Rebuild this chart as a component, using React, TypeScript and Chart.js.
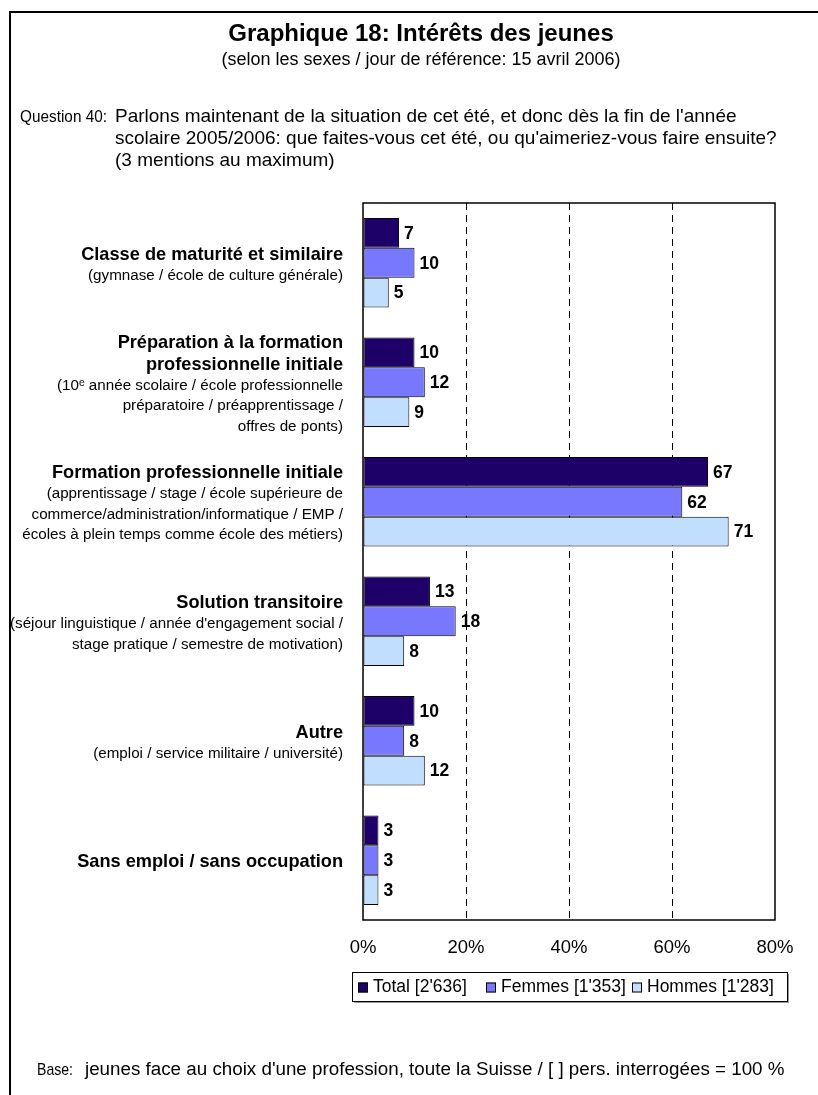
import React, { useEffect, useRef } from "react";
import { Chart, registerables } from "chart.js";

Chart.register(...registerables);

const FONT = "'Liberation Sans', Arial, Helvetica, sans-serif";

const categoryTitles: string[][] = [
  ["Classe de maturité et similaire"],
  ["Préparation à la formation", "professionnelle initiale"],
  ["Formation professionnelle initiale"],
  ["Solution transitoire"],
  ["Autre"],
  ["Sans emploi / sans occupation"],
];

const categoryNotes: string[][] = [
  ["(gymnase / école de culture générale)"],
  ["(10ᵉ année scolaire / école professionnelle", "préparatoire / préapprentissage /", "offres de ponts)"],
  ["(apprentissage / stage / école supérieure de", "commerce/administration/informatique / EMP /", "écoles à plein temps comme école des métiers)"],
  ["(séjour linguistique / année d'engagement social /", "stage pratique / semestre de motivation)"],
  ["(emploi / service militaire / université)"],
  [],
];

const seriesNames = ["Total [2'636]", "Femmes [1'353]", "Hommes [1'283]"];
const totalValues = [7, 10, 67, 13, 10, 3];
const femmesValues = [10, 12, 62, 18, 8, 3];
const hommesValues = [5, 9, 71, 8, 12, 3];
const seriesColors = ["#1E0069", "#7878FF", "#C2DEFF"];
const xTicks = [0, 20, 40, 60, 80];

const titleText = "Graphique 18: Intérêts des jeunes";
const subtitleText = "(selon les sexes / jour de référence: 15 avril 2006)";
const questionLabel = "Question 40:";
const questionLines = [
  "Parlons maintenant de la situation de cet été, et donc dès la fin de l'année",
  "scolaire 2005/2006: que faites-vous cet été, ou qu'aimeriez-vous faire ensuite?",
  "(3 mentions au maximum)",
];
const baseLabel = "Base:";
const baseText = "jeunes face au choix d'une profession, toute la Suisse / [ ] pers. interrogées = 100 %";

const decorPlugin = {
  id: "decor",
  beforeDraw(chart: any) {
    const ctx = chart.ctx;
    ctx.save();
    ctx.fillStyle = "#fff";
    ctx.fillRect(0, 0, chart.width, chart.height);
    ctx.restore();
  },
  afterDraw(chart: any) {
    const ctx = chart.ctx;
    const area = chart.chartArea;
    const yScale = chart.scales.y;
    ctx.save();

    // outer frame
    ctx.strokeStyle = "#000";
    ctx.lineWidth = 2;
    ctx.strokeRect(10, 12, 1000, 1200);

    // titles
    ctx.fillStyle = "#000";
    ctx.textAlign = "center";
    ctx.textBaseline = "middle";
    ctx.font = `bold 24px ${FONT}`;
    ctx.fillText(titleText, 421, 34);
    ctx.font = `18px ${FONT}`;
    ctx.fillText(subtitleText, 421, 60);

    // question
    ctx.textAlign = "left";
    ctx.font = `17px ${FONT}`;
    ctx.fillText(questionLabel, 20, 117, 87);
    ctx.font = `19px ${FONT}`;
    questionLines.forEach((l, i) => ctx.fillText(l, 115, 117 + i * 22));

    // base
    ctx.font = `17px ${FONT}`;
    ctx.fillText(baseLabel, 37, 1070, 36);
    ctx.font = `18.8px ${FONT}`;
    ctx.fillText(baseText, 85, 1070);

    // category labels
    ctx.textAlign = "right";
    const boldLH = 22;
    const noteLH = 20.5;
    chart.data.labels.forEach((_: any, i: number) => {
      const cy = yScale.getPixelForValue(i) + 2;
      const titles = categoryTitles[i];
      const notes = categoryNotes[i];
      const h = titles.length * boldLH + notes.length * noteLH;
      let y = cy - h / 2;
      ctx.font = `bold 18.2px ${FONT}`;
      titles.forEach((t) => {
        ctx.fillText(t, 343, y + boldLH / 2);
        y += boldLH;
      });
      ctx.font = `15.2px ${FONT}`;
      notes.forEach((t) => {
        ctx.fillText(t, 343, y + noteLH / 2);
        y += noteLH;
      });
    });

    // plot border
    ctx.strokeStyle = "#000";
    ctx.lineWidth = 1.5;
    ctx.strokeRect(area.left, area.top, area.right - area.left, area.bottom - area.top);

    // value labels
    ctx.textAlign = "left";
    ctx.textBaseline = "middle";
    ctx.font = `bold 17.5px ${FONT}`;
    chart.data.datasets.forEach((ds: any, di: number) => {
      const meta = chart.getDatasetMeta(di);
      meta.data.forEach((bar: any, j: number) => {
        ctx.fillText(String(ds.data[j]), bar.x + 5, bar.y + 1);
      });
    });

    // legend
    const boxL = 352, boxT = 972, boxW = 435, boxH = 29;
    ctx.fillStyle = "#999";
    ctx.fillRect(boxL + 2, boxT + boxH, boxW, 2);
    ctx.fillRect(boxL + boxW, boxT + 2, 2, boxH);
    ctx.fillStyle = "#fff";
    ctx.fillRect(boxL, boxT, boxW, boxH);
    ctx.strokeStyle = "#000";
    ctx.lineWidth = 1;
    ctx.strokeRect(boxL + 0.5, boxT + 0.5, boxW, boxH);
    ctx.font = `17.5px ${FONT}`;
    const mk = 10;
    const itemX = [358, 486, 632];
    const ly = boxT + boxH / 2 + 1;
    chart.data.datasets.forEach((ds: any, di: number) => {
      const x = itemX[di];
      ctx.fillStyle = ds.backgroundColor;
      ctx.fillRect(x, ly - mk / 2, mk, mk);
      ctx.strokeStyle = "#000";
      ctx.strokeRect(x + 0.5, ly - mk / 2 + 0.5, mk - 1, mk - 1);
      ctx.fillStyle = "#000";
      ctx.textAlign = "left";
      ctx.fillText(ds.label, x + 15, ly);
    });

    ctx.restore();
  },
};

export default function App() {
  const ref = useRef<HTMLCanvasElement | null>(null);
  useEffect(() => {
    if (!ref.current) return;
    const chart = new Chart(ref.current, {
      type: "bar",
      data: {
        labels: categoryTitles.map((t) => t.join(" ")),
        datasets: [totalValues, femmesValues, hommesValues].map((vals, i) => ({
          label: seriesNames[i],
          data: vals,
          backgroundColor: seriesColors[i],
          borderColor: "#000",
          borderWidth: 1,
          borderSkipped: false,
          barPercentage: 1,
          categoryPercentage: 0.75,
        })),
      },
      options: {
        indexAxis: "y",
        responsive: false,
        animation: false,
        devicePixelRatio: 1,
        layout: { padding: { left: 363, right: 43, top: 203, bottom: 125 } },
        plugins: { legend: { display: false }, tooltip: { enabled: false } },
        scales: {
          x: {
            type: "linear",
            min: 0,
            max: 80,
            afterFit: (s: any) => {
              s.height = 50;
            },
            afterBuildTicks: (s: any) => {
              s.ticks = xTicks.map((v) => ({ value: v }));
            },
            ticks: {
              callback: (v: any) => `${v}%`,
              color: "#000",
              font: { family: FONT, size: 18.5 },
              padding: 17,
            },
            grid: {
              drawTicks: false,
              color: (c: any) => (c.tick && (c.tick.value === 0 || c.tick.value === 80) ? "rgba(0,0,0,0)" : "#000"),
              lineWidth: 1,
            },
            border: { display: false, dash: [7, 5] },
          },
          y: {
            type: "category",
            display: false,
            offset: true,
          },
        },
      } as any,
      plugins: [decorPlugin],
    });
    return () => chart.destroy();
  }, []);
  return (
    <div style={{ position: "absolute", left: 0, top: 0, width: 818, height: 1095, background: "#fff" }}>
      <canvas ref={ref} width={818} height={1095} style={{ display: "block", width: 818, height: 1095 }} />
    </div>
  );
}
